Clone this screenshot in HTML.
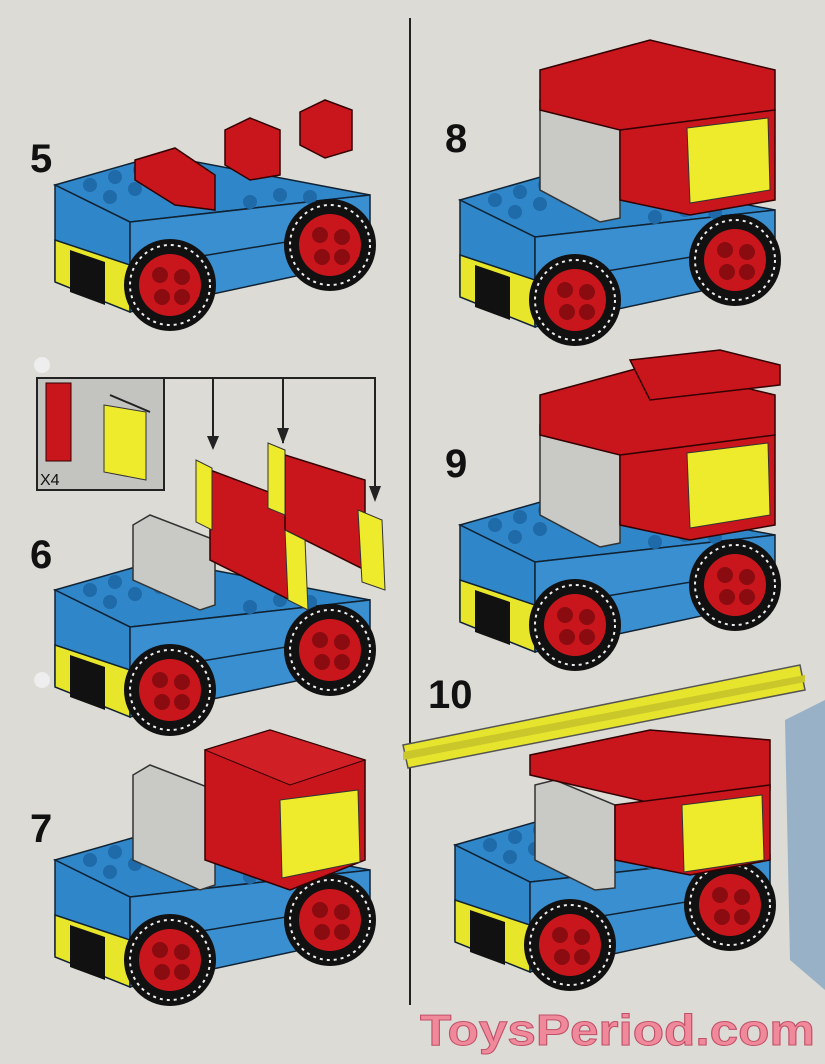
<!DOCTYPE html>
<html><head><meta charset="utf-8"><style>
html,body{margin:0;padding:0;background:#dcdbd5;}
svg{display:block}
.n{font-family:"Liberation Sans",sans-serif;font-weight:bold;font-size:40px;fill:#111}
</style></head><body>
<svg width="825" height="1064" viewBox="0 0 825 1064" xmlns="http://www.w3.org/2000/svg">
<defs>
<g id="wheel">
<circle r="46" fill="#111"/>
<circle r="40" fill="none" stroke="#eee" stroke-width="2" stroke-dasharray="3 4"/>
<circle r="31" fill="#c8161c"/>
<circle cx="-10" cy="-10" r="8" fill="#8a0c10"/><circle cx="12" cy="-8" r="8" fill="#8a0c10"/>
<circle cx="-8" cy="12" r="8" fill="#8a0c10"/><circle cx="12" cy="12" r="8" fill="#8a0c10"/>
</g>
<g id="truck">
<polygon points="55,185 160,155 370,195 130,222" fill="#2f86c8" stroke="#123" stroke-width="1.5"/>
<polygon points="55,185 130,222 130,310 55,280" fill="#2f86c8" stroke="#123" stroke-width="1.5"/>
<polygon points="55,240 130,265 130,312 55,282" fill="#e8e62a" stroke="#123" stroke-width="1.5"/>
<polygon points="70,250 105,262 105,305 70,292" fill="#111"/>
<polygon points="130,222 370,195 370,260 130,312" fill="#3a8fd0" stroke="#123" stroke-width="1.5"/>
<line x1="130" y1="268" x2="370" y2="228" stroke="#123" stroke-width="1.5"/>
<g fill="#1f6aa8">
<circle cx="90" cy="185" r="7"/><circle cx="115" cy="177" r="7"/><circle cx="140" cy="170" r="7"/>
<circle cx="110" cy="197" r="7"/><circle cx="135" cy="189" r="7"/><circle cx="160" cy="182" r="7"/>
<circle cx="250" cy="202" r="7"/><circle cx="280" cy="195" r="7"/><circle cx="310" cy="197" r="7"/>
</g>
<use href="#wheel" x="170" y="285"/>
<use href="#wheel" x="330" y="245"/>
</g>
</defs>

<line x1="410" y1="18" x2="410" y2="1005" stroke="#222" stroke-width="2"/>

<!-- 5 -->
<text class="n" x="30" y="172">5</text>
<use href="#truck"/>
<polygon points="135,160 175,148 215,175 215,210 175,205 135,180" fill="#c8161c" stroke="#300" stroke-width="1.5"/>
<polygon points="225,130 250,118 280,130 280,175 250,180 225,165" fill="#c8161c" stroke="#300" stroke-width="1.5"/>
<polygon points="300,112 325,100 352,110 352,150 325,158 300,145" fill="#c8161c" stroke="#300" stroke-width="1.5"/>

<!-- inset -->
<rect x="37" y="378" width="127" height="112" fill="#c3c3bf" stroke="#222" stroke-width="2"/>
<polyline points="164,378 375,378 375,498" fill="none" stroke="#222" stroke-width="2"/>
<line x1="213" y1="378" x2="213" y2="448" stroke="#222" stroke-width="2"/>
<line x1="283" y1="378" x2="283" y2="443" stroke="#222" stroke-width="2"/>
<polygon points="207,436 213,450 219,436" fill="#222"/>
<polygon points="277,428 283,444 289,428" fill="#222"/>
<polygon points="369,486 375,502 381,486" fill="#222"/>
<rect x="46" y="383" width="25" height="78" fill="#c8161c" stroke="#300"/>
<polygon points="104,405 146,412 146,480 104,472" fill="#eeea2c" stroke="#333"/>
<line x1="150" y1="412" x2="110" y2="395" stroke="#222" stroke-width="2"/>
<text x="40" y="485" font-family="Liberation Sans,sans-serif" font-size="16" fill="#111">X4</text>
<circle cx="42" cy="365" r="8" fill="#eee"/><circle cx="42" cy="680" r="8" fill="#eee"/>

<!-- 6 -->
<text class="n" x="30" y="568">6</text>
<use href="#truck" y="405"/>
<polygon points="133,525 150,515 215,540 215,605 200,610 133,580" fill="#c9c9c6" stroke="#333" stroke-width="1.5"/>
<polygon points="210,470 290,500 290,600 210,560" fill="#c8161c" stroke="#300" stroke-width="1.5"/>
<polygon points="285,455 365,480 365,570 285,530" fill="#c8161c" stroke="#300" stroke-width="1.5"/>
<polygon points="196,460 212,468 212,530 196,522" fill="#eeea2c" stroke="#333"/>
<polygon points="285,530 305,540 308,610 288,600" fill="#eeea2c" stroke="#333"/>
<polygon points="268,443 285,450 285,515 268,508" fill="#eeea2c" stroke="#333"/>
<polygon points="358,510 382,520 385,590 362,582" fill="#eeea2c" stroke="#333"/>

<!-- 7 -->
<text class="n" x="30" y="842">7</text>
<use href="#truck" y="675"/>
<polygon points="133,775 150,765 215,790 215,885 200,890 133,860" fill="#c9c9c6" stroke="#333" stroke-width="1.5"/>
<polygon points="205,750 270,730 365,760 365,860 290,890 205,860" fill="#c8161c" stroke="#300" stroke-width="1.5"/>
<polygon points="205,750 270,730 365,760 290,785" fill="#d02026" stroke="#300"/>
<polygon points="280,800 358,790 360,862 282,878" fill="#eeea2c" stroke="#333"/>

<!-- 8 -->
<text class="n" x="445" y="152">8</text>
<use href="#truck" x="405" y="15"/>
<polygon points="540,100 560,95 620,120 620,218 600,222 540,190" fill="#c9c9c6" stroke="#333" stroke-width="1.5"/>
<polygon points="540,70 650,40 775,70 775,110 660,140 540,110" fill="#c8161c" stroke="#300" stroke-width="1.5"/>
<polygon points="620,130 775,110 775,200 690,215 620,200" fill="#c8161c" stroke="#300" stroke-width="1.5"/>
<polygon points="687,128 768,118 770,190 690,203" fill="#eeea2c" stroke="#333"/>

<!-- 9 -->
<text class="n" x="445" y="477">9</text>
<use href="#truck" x="405" y="340"/>
<polygon points="540,425 560,420 620,445 620,543 600,547 540,515" fill="#c9c9c6" stroke="#333" stroke-width="1.5"/>
<polygon points="540,395 650,365 775,395 775,435 660,465 540,435" fill="#c8161c" stroke="#300" stroke-width="1.5"/>
<polygon points="630,360 720,350 780,365 780,385 650,400" fill="#c8161c" stroke="#300" stroke-width="1.5"/>
<polygon points="620,455 775,435 775,525 690,540 620,525" fill="#c8161c" stroke="#300" stroke-width="1.5"/>
<polygon points="687,453 768,443 770,515 690,528" fill="#eeea2c" stroke="#333"/>

<!-- 10 -->
<text class="n" x="428" y="708">10</text>
<use href="#truck" x="400" y="660"/>
<polygon points="535,785 555,780 615,805 615,888 595,890 535,860" fill="#c9c9c6" stroke="#333" stroke-width="1.5"/>
<polygon points="530,755 650,730 770,740 770,790 660,805 530,775" fill="#c8161c" stroke="#300" stroke-width="1.5"/>
<polygon points="615,805 770,785 770,860 690,875 615,860" fill="#c8161c" stroke="#300" stroke-width="1.5"/>
<polygon points="682,805 762,795 764,860 684,872" fill="#eeea2c" stroke="#333"/>
<polygon points="403,745 800,665 805,690 408,768" fill="#e6e42c" stroke="#555" stroke-width="1.5"/>
<polygon points="403,752 805,675 805,682 403,760" fill="#c9c72a"/>
<polygon points="785,720 825,700 825,990 790,960" fill="#7aa0c0" opacity="0.7"/>

<text x="420" y="1045" textLength="395" lengthAdjust="spacingAndGlyphs" font-family="Liberation Sans,sans-serif" font-weight="bold" font-size="44" fill="#f08a9a" stroke="#c0506a" stroke-width="1">ToysPeriod.com</text>
</svg>
</body></html>
